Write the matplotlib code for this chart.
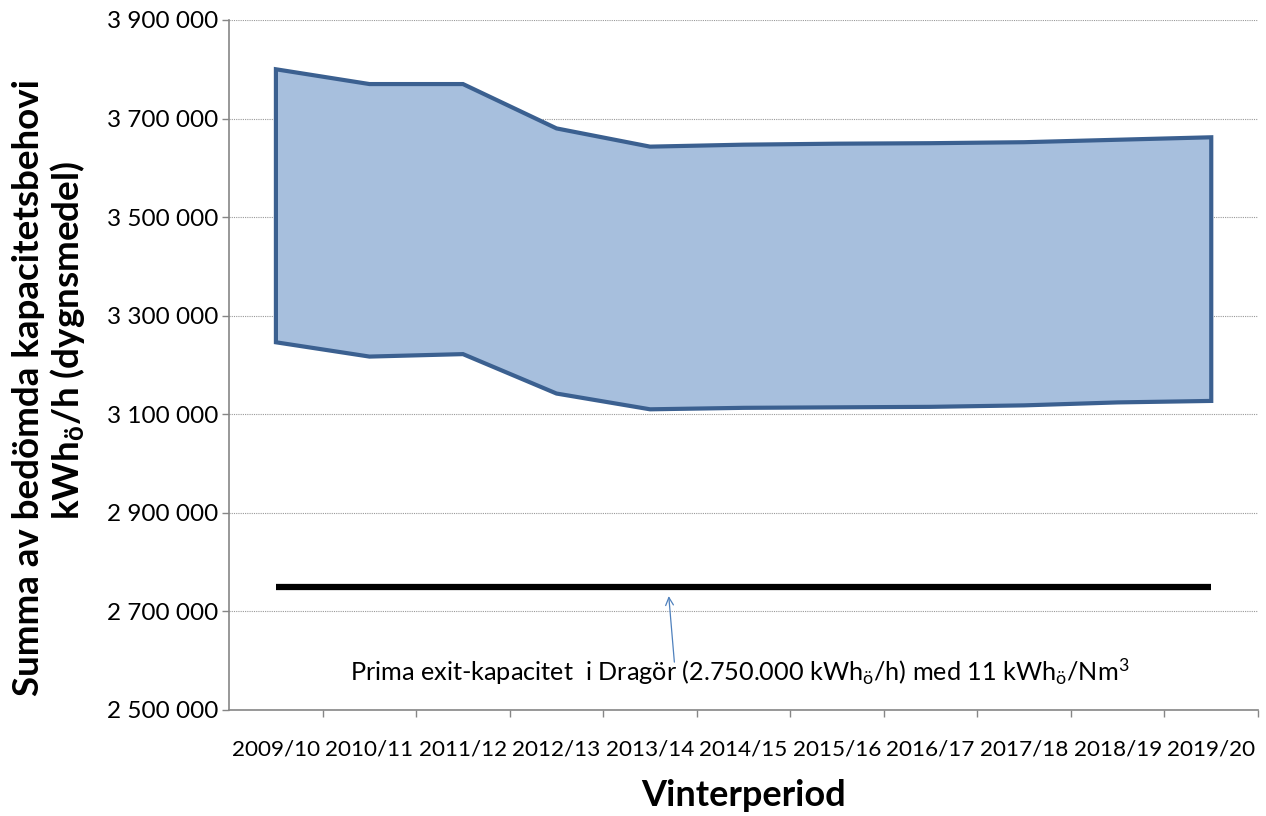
import numpy as np
import matplotlib.pyplot as plt
from matplotlib.ticker import FuncFormatter, FixedLocator

# fonts: Lato is the closest available to Calibri
plt.rcParams.update({
    "font.family": ["Lato", "DejaVu Sans"],
    "mathtext.fontset": "custom",
    "mathtext.rm": "Lato",
    "mathtext.it": "Lato:italic",
    "mathtext.bf": "Lato:bold",
})

# data
periods = ["2009/10", "2010/11", "2011/12", "2012/13", "2013/14", "2014/15",
           "2015/16", "2016/17", "2017/18", "2018/19", "2019/20"]
upper = [3800000, 3770000, 3770000, 3680000, 3643000, 3647000,
         3649000, 3650000, 3652000, 3657000, 3662000]
lower = [3246000, 3217000, 3222000, 3142000, 3110000, 3113000,
         3114000, 3115000, 3118000, 3124000, 3127000]
exit_capacity = 2750000
y_ticks = [2500000, 2700000, 2900000, 3100000, 3300000, 3500000, 3700000, 3900000]

fill_color = "#A7BFDD"
edge_color = "#3B6090"

fig = plt.figure(figsize=(12.66, 8.16), dpi=100)
ax = fig.add_axes([0.181, 0.130, 0.8127, 0.8455])

x = np.arange(len(periods))
poly_x = np.concatenate([x, x[::-1]])
poly_y = np.concatenate([upper, lower[::-1]])
ax.fill(poly_x, poly_y, facecolor=fill_color, edgecolor=edge_color,
        linewidth=3, joinstyle="miter", zorder=3)

ax.plot(x, [exit_capacity] * len(x), color="black", linewidth=4.5,
        solid_capstyle="butt", zorder=4)

# axes
ax.set_xlim(-0.5, len(periods) - 0.5)
ax.set_ylim(y_ticks[0], y_ticks[-1])
ax.set_yticks(y_ticks)
ax.yaxis.set_major_formatter(FuncFormatter(lambda v, p: f"{v:,.0f}".replace(",", " ")))
ax.set_xticks(x)
ax.set_xticklabels(periods)
ax.xaxis.set_minor_locator(FixedLocator(np.arange(len(periods)) + 0.5))

ax.tick_params(axis="x", which="major", length=0, pad=21, labelsize=16.2)
ax.tick_params(axis="x", which="minor", length=5, width=1, color="#868686", direction="out")
ax.tick_params(axis="y", which="major", length=5, width=1, color="#868686", pad=3, labelsize=17.5)

for side in ["top", "right"]:
    ax.spines[side].set_visible(False)
for side in ["left", "bottom"]:
    ax.spines[side].set_color("#868686")
    ax.spines[side].set_linewidth(1.2)

ax.yaxis.grid(True, linestyle=(0, (1, 1)), color="#999999", linewidth=0.8, zorder=0)
ax.set_axisbelow(True)

# y label: two separately placed lines, as in the original
fig.text(29 / 1266, 1 - 388 / 816, "Summa av bedömda kapacitetsbehovi",
         rotation=90, ha="center", va="center", fontsize=26.5, fontweight="bold")
fig.text(68 / 1266, 1 - 340 / 816, "kWh$_{\\mathbf{ö}}$/h (dygnsmedel)",
         rotation=90, ha="center", va="center", fontsize=26.5, fontweight="bold")

ax.set_xlabel("Vinterperiod", fontsize=26, fontweight="bold", va="top")
ax.xaxis.set_label_coords(0.5, -0.100)

# annotation
ax.annotate("", xy=(4.2, 2731000), xytext=(4.26, 2597000),
            arrowprops=dict(arrowstyle="->", color="#4F81BD", lw=0.9,
                            shrinkA=0, shrinkB=0, mutation_scale=14))
ax.text(4.96, 2577000,
        "Prima exit-kapacitet  i Dragör (2.750.000 kWh$_{\\mathrm{ö}}$/h) med 11 kWh$_{\\mathrm{ö}}$/Nm$^{\\mathrm{3}}$",
        ha="center", va="center", fontsize=18.2)

plt.savefig("out.png", dpi=100)
